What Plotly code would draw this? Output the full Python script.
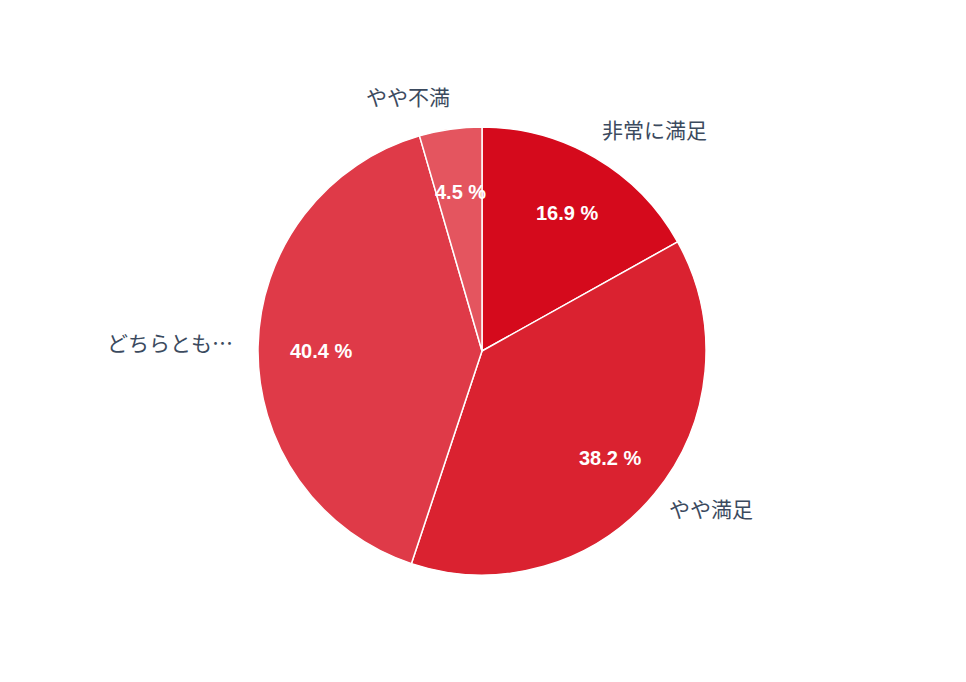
import math
import plotly.graph_objects as go

# survey satisfaction shares (clockwise from top)
LABELS = ['非常に満足', 'やや満足', 'どちらとも…', 'やや不満']
VALUES = [16.9, 38.2, 40.4, 4.5]
COLORS = ['#d50a1c', '#da2230', '#df3a48', '#e4555f']

W, H = 966, 682
CX, CY, R = 474, 343, 224   # pie centre / radius in pixels (page adds 8px body margin)

fig = go.Figure(go.Pie(
    labels=LABELS,
    values=VALUES,
    sort=False,
    direction='clockwise',
    rotation=0,
    textinfo='none',
    hoverinfo='label+percent',
    marker=dict(colors=COLORS, line=dict(color='white', width=1.5)),
    domain=dict(x=[(CX - R) / W, (CX + R) / W],
                y=[1 - (CY + R) / H, 1 - (CY - R) / H]),
    showlegend=False,
))

# label positions from the mid-angle of each slice
total = sum(VALUES)
cum = 0
for lab, v in zip(LABELS, VALUES):
    mid = (cum + v / 2) / total * 2 * math.pi
    cum += v
    sx, sy = math.sin(mid), -math.cos(mid)
    # percentage inside
    fig.add_annotation(
        x=(CX + 0.73 * R * sx) / W, y=1 - (CY + 0.73 * R * sy) / H,
        xref='paper', yref='paper', showarrow=False,
        xanchor='center', yanchor='middle', xshift=2, yshift=-3,
        text='<b>%.1f %%</b>' % v,
        font=dict(family='Liberation Sans, Arial, sans-serif', size=20, color='white'),
    )
    # category outside
    right = sx >= 0
    fig.add_annotation(
        x=(CX + 1.13 * R * sx) / W, y=1 - (CY + 1.13 * R * sy) / H,
        xref='paper', yref='paper', showarrow=False,
        xanchor='left' if right else 'right', yanchor='middle',
        xshift=-10 if right else 6, yshift=4,
        text=lab,
        font=dict(family='Noto Sans CJK JP, sans-serif', size=21, color='#3b4a5e'),
    )

fig.update_layout(
    width=W, height=H,
    margin=dict(l=0, r=0, t=0, b=0),
    paper_bgcolor='white',
    plot_bgcolor='white',
)

fig.write_html("out.html")
